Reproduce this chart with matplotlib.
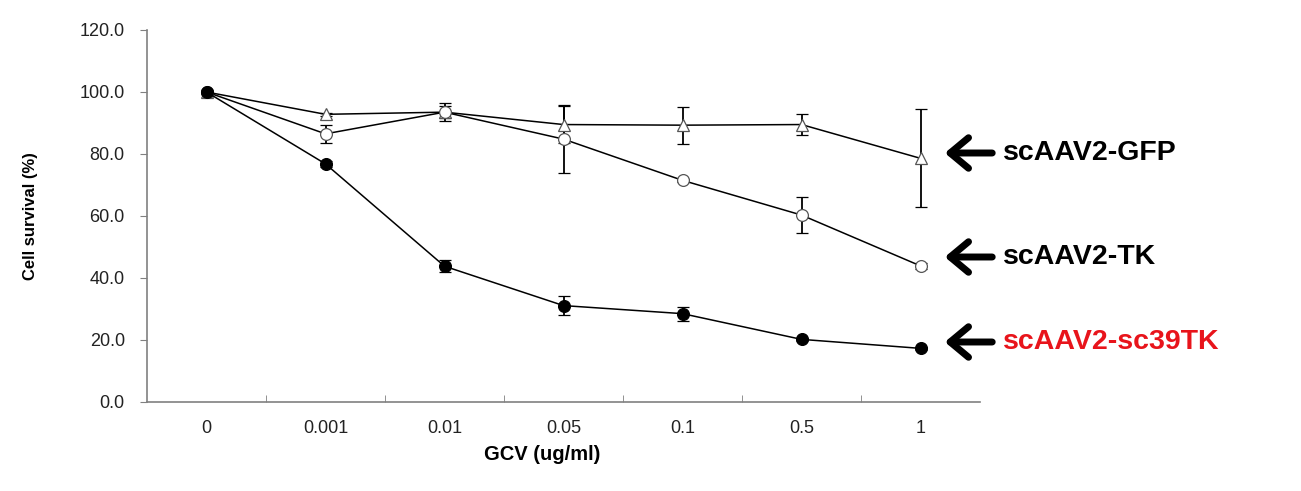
import matplotlib
matplotlib.use("Agg")
import matplotlib.pyplot as plt
import numpy as np

plt.rcParams['font.family'] = ['Liberation Sans', 'DejaVu Sans']

categories = ["0", "0.001", "0.01", "0.05", "0.1", "0.5", "1"]
gfp = [100.0, 92.8, 93.5, 89.5, 89.3, 89.5, 78.6]
gfp_err = [0.5, 0.5, 3.0, 6.0, 6.0, 3.5, 15.8]
tk = [100.0, 86.5, 93.5, 84.8, 71.5, 60.3, 43.9]
tk_err = [0.5, 2.9, 2.0, 11.0, 0.5, 5.7, 1.0]
sc39 = [100.0, 76.8, 43.8, 31.1, 28.5, 20.2, 17.3]
sc39_err = [0.5, 1.0, 2.0, 3.0, 2.3, 0.5, 0.5]
yticks = [0, 20, 40, 60, 80, 100, 120]
labels = ["scAAV2-GFP", "scAAV2-TK", "scAAV2-sc39TK"]
label_colors = ["black", "black", "#e8141b"]

W, H = 1301, 491
fig = plt.figure(figsize=(W / 100, H / 100), dpi=100)
ax = fig.add_axes([147 / W, 1 - 402 / H, (980 - 147) / W, (402 - 30) / H])

x = np.arange(len(categories))
ekw = dict(ecolor="black", elinewidth=1.3, capsize=4, capthick=1.3, zorder=2)
ax.errorbar(x, gfp, yerr=gfp_err, color="black", lw=1.1, marker="^", ms=8.5,
            mfc="white", mec="#555555", mew=0.9, **ekw)
ax.errorbar(x, tk, yerr=tk_err, color="black", lw=1.1, marker="o", ms=8.5,
            mfc="white", mec="#555555", mew=0.9, **ekw)
ax.errorbar(x, sc39, yerr=sc39_err, color="black", lw=1.1, marker="o", ms=8.5,
            mfc="black", mec="black", mew=0.9, **ekw)

ax.set_xlim(-0.5, len(categories) - 0.5)
ax.set_ylim(0, 120)
ax.set_yticks(yticks)
ax.set_yticklabels([f"{v:.1f}" for v in yticks], fontsize=13, color="#222222")
ax.set_xticks(x)
ax.set_xticklabels(categories, fontsize=13, color="#222222")
ax.tick_params(axis="x", which="major", length=0, pad=13)
ax.set_xticks(np.arange(0.5, len(categories) - 1, 1.0), minor=True)
ax.tick_params(axis="x", which="minor", direction="in", length=5, color="#808080")
ax.tick_params(axis="y", direction="out", length=5, color="#808080", pad=11)

for s in ["top", "right"]:
    ax.spines[s].set_visible(False)
for s in ["left", "bottom"]:
    ax.spines[s].set_color("#808080")
    ax.spines[s].set_linewidth(1.2)

ax.set_ylabel("Cell survival (%)", fontsize=12, fontweight="bold")
ax.yaxis.set_label_coords(-(147 - 30) / 833, 0.5)
ax.set_xlabel("GCV (ug/ml)", fontsize=14.5, fontweight="bold")
ax.xaxis.set_label_coords((542 - 147) / 833, -(454 - 402) / 372)
ax.xaxis.label.set_va("center")
ax.yaxis.label.set_va("center")

# arrows and labels (figure pixel coords)
arrow_y = [153, 257, 342]
for yy, lab, col in zip(arrow_y, labels, label_colors):
    fy = 1 - yy / H
    fig.add_artist(matplotlib.patches.FancyArrowPatch(
        (995 / W, fy), (942 / W, fy), transform=fig.transFigure,
        arrowstyle="->,head_length=0.6,head_width=0.5", lw=5, color="black",
        mutation_scale=22))
    fig.text(1003 / W, fy, lab, fontsize=20.5, fontweight="bold", color=col,
             va="center", ha="left")

fig.savefig("out.png", dpi=100)
